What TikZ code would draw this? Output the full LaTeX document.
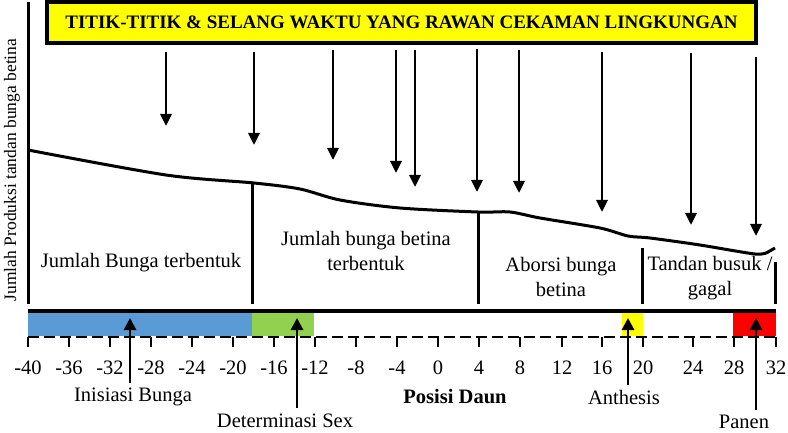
\documentclass[tikz,border=0pt]{standalone}
\usepackage{fontspec}
\setmainfont{Liberation Serif}
\usetikzlibrary{arrows.meta,positioning}
\definecolor{BarBlue}{RGB}{91,155,213}
\definecolor{BarGreen}{RGB}{146,208,80}
\definecolor{BarYellow}{RGB}{255,255,0}
\definecolor{BarRed}{RGB}{255,0,0}

\begin{document}
\begin{tikzpicture}[x=1pt, y=-1pt,
	lbl/.style={font=\fontsize{20.5}{25}\selectfont, align=center, inner sep=0pt},
	stress/.style={line width=2.8pt, -{Triangle[length=12pt,width=11pt]}},
	markarrow/.style={line width=2.8pt, -{Triangle[length=12pt,width=12pt]}, shorten <=5pt},
	divider/.style={line width=3pt}]
	\useasboundingbox (0,0) rectangle (788,433);
	% judul
	\node[draw, line width=3.2pt, fill=BarYellow, minimum width=709, minimum height=41, inner sep=0pt,
		font=\bfseries\fontsize{19}{22}\selectfont] (title) at (401.5,22.5)
		{TITIK-TITIK \& SELANG WAKTU YANG RAWAN CEKAMAN LINGKUNGAN};
	\foreach \px/\ya/\yb in {166/52/126, 254/52/145, 333/50/160, 396/50/173, 415/50/187,
		477/49/192, 519/50/193, 602/52/212, 691/53/225, 756/57/236}
		\draw[stress] (\px,\ya) -- (\px,\yb);
	% sumbu y dan kurva
	\draw[divider] (28,2) -- (28,304);
	\node[rotate=90, inner sep=0pt, font=\fontsize{17.5}{20}\selectfont] (ylabel) at (12,170)
		{Jumlah Produksi tandan bunga betina};
	\draw[line width=3pt] plot[smooth, tension=0.5] coordinates {
		(28,150) (166,175) (254,183) (300,189) (340,200) (400,208) (478,212) (510,212)
		(540,218) (600,228) (628,236) (650,238) (700,245) (755,254) (768,252)} -- (775,248);
	\draw[divider] (252,183) -- (252,304);
	\draw[divider] (478,212) -- (478,304);
	\draw[divider] (642,248) -- (642,304);
	\draw[divider] (775,262) -- (775,304);
	\node[lbl] (formed) at (141,263) {Jumlah Bunga terbentuk};
	\node[lbl] (female) at (366,251) {Jumlah bunga betina\\terbentuk};
	\node[lbl] (abort) at (561,277) {Aborsi bunga\\betina};
	\node[lbl] (rotten) at (710,278) {Tandan busuk /\\gagal};
	% pita posisi daun
	\fill[BarBlue] (28,311) rectangle (252,336);
	\fill[BarGreen] (252,311) rectangle (314,336);
	\fill[BarYellow] (622,311) rectangle (643,336);
	\fill[BarRed] (733,311) rectangle (776,336);
	\draw[line width=3.2pt] (28,311) -- (776,311);
	\draw[line width=2.8pt, dash pattern=on 11pt off 5pt] (28,337) -- (776,337);
	\foreach \v/\px in {-40/28,-36/69,-32/110,-28/151,-24/192,-20/233,-16/274,-12/315,-8/356,
		-4/397,0/438,4/479,8/520,12/562,16/602,20/643,24/693,28/734,32/776} {
		\draw[line width=2.2pt] (\px,337) -- (\px,347);
		\node[lbl] (tick\v) at (\px,368) {\v};
	}
	% keterangan bawah
	\node[lbl] (inisiasi) at (133,397) {Inisiasi Bunga};
	\node[lbl, anchor=base] (determinasi) at (285,427) {Determinasi Sex};
	\node[lbl, font=\bfseries\fontsize{20.5}{25}\selectfont] (posisi) at (455,397) {Posisi Daun};
	\node[lbl] (anthesis) at (624,397) {Anthesis};
	\node[lbl] (panen) at (744,422) {Panen};
	\coordinate (tipInis) at (130,318);
	\coordinate (tipDet) at (297,318);
	\coordinate (tipAnth) at (628,318);
	\coordinate (tipPanen) at (756,318);
	\draw[markarrow] (tipInis |- inisiasi.north) -- (tipInis);
	\draw[markarrow] (tipDet |- determinasi.north) -- (tipDet);
	\draw[markarrow] (tipAnth |- anthesis.north) -- (tipAnth);
	\draw[markarrow] (tipPanen |- panen.north) -- (tipPanen);
\end{tikzpicture}
\end{document}
